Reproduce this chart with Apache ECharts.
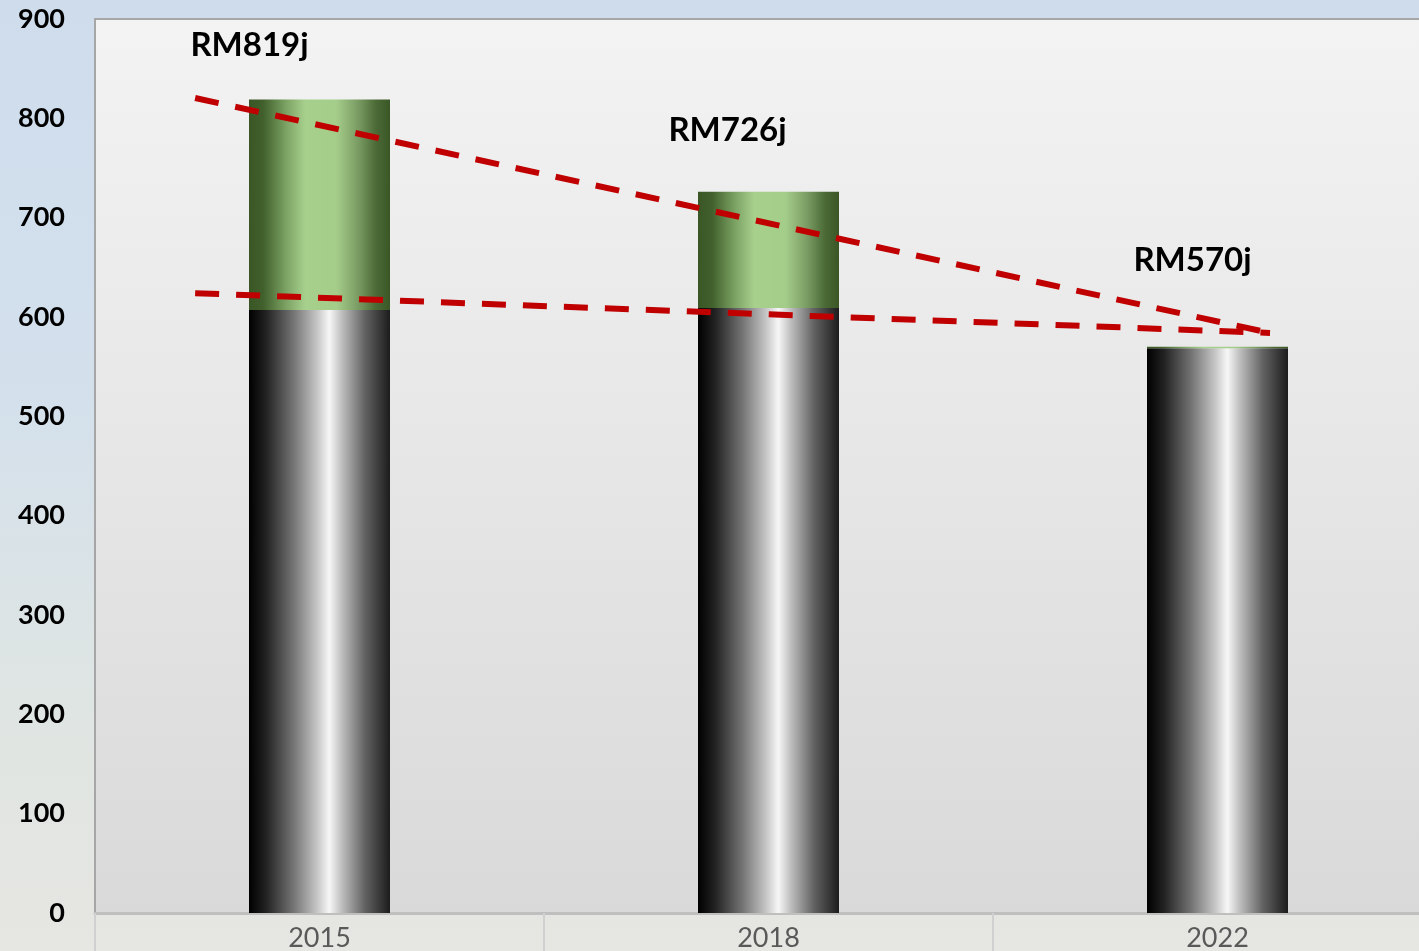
<!DOCTYPE html>
<html>
<head>
<meta charset="utf-8">
<script src="https://cdn.jsdelivr.net/npm/echarts@6/dist/echarts.min.js"></script>
<style>
html,body{margin:0;padding:0;width:1419px;height:951px;overflow:hidden;
background:linear-gradient(180deg,#cfdcec 0%,#d3e0ec 40%,#dfe5e2 75%,#e6e6e2 100%);}
#c{width:1419px;height:951px;}
</style>
</head>
<body>
<div id="c"></div>
<script>
const categories = ['2015', '2018', '2022'];
const baseValues = [607, 609, 568.5];
const extraValues = [212, 117, 1.5];
const totalLabels = ['RM819j', 'RM726j', 'RM570j'];
const yTicks = [0, 100, 200, 300, 400, 500, 600, 700, 800, 900];
const upperTrend = [[-0.277, 820.5], [2.117, 584]];
const lowerTrend = [[-0.277, 624], [2.117, 584]];

const labelOffsets = [[-70, -33], [-41, -40], [-25, -65]];

const chart = echarts.init(document.getElementById('c'));
const blackGrad = new echarts.graphic.LinearGradient(0, 0, 1, 0, [
  {offset: 0, color: '#000000'},
  {offset: 0.12, color: '#222222'},
  {offset: 0.32, color: '#767676'},
  {offset: 0.48, color: '#c4c4c4'},
  {offset: 0.57, color: '#f7f7f7'},
  {offset: 0.66, color: '#bdbdbd'},
  {offset: 0.82, color: '#636363'},
  {offset: 1, color: '#1c1c1c'}
]);
const greenGrad = new echarts.graphic.LinearGradient(0, 0, 1, 0, [
  {offset: 0, color: '#3a5626'},
  {offset: 0.1, color: '#41602c'},
  {offset: 0.27, color: '#7ea566'},
  {offset: 0.4, color: '#a8d08d'},
  {offset: 0.62, color: '#a5cd8a'},
  {offset: 0.78, color: '#789a62'},
  {offset: 0.9, color: '#4b6a36'},
  {offset: 1, color: '#3a5626'}
]);

chart.setOption({
  animation: false,
  grid: {
    left: 95, top: 19, right: -23, bottom: 38,
    outerBoundsMode: 'none',
    containLabel: false,
    show: true,
    backgroundColor: new echarts.graphic.LinearGradient(0, 0, 0, 1, [
      {offset: 0, color: '#f3f3f3'},
      {offset: 1, color: '#d9d9d9'}
    ]),
    borderColor: '#a6a6a6', borderWidth: 2
  },
  xAxis: [{
    type: 'category',
    data: categories,
    axisLine: {show: true, lineStyle: {color: '#bfbfbf', width: 3}},
    axisTick: {show: true, length: 40, lineStyle: {color: '#d0d0d0', width: 2}},
    axisLabel: {color: '#595959', fontSize: 27, fontFamily: 'Lato', margin: 12}
  }, {
    type: 'value', min: -0.5, max: 2.5, show: false
  }],
  yAxis: {
    type: 'value', min: yTicks[0], max: yTicks[yTicks.length - 1], interval: 100,
    splitLine: {show: false},
    axisLine: {show: false}, axisTick: {show: false},
    axisLabel: {color: '#000', fontSize: 27, fontWeight: 'bold', fontFamily: 'Lato', margin: 30}
  },
  series: [{
    type: 'bar', stack: 'a', barWidth: 141,
    data: baseValues,
    itemStyle: {color: blackGrad}
  }, {
    type: 'bar', stack: 'a', barWidth: 141,
    data: extraValues.map((v, i) => ({
      value: v,
      label: {
        show: true, position: 'top', offset: labelOffsets[i],
        formatter: () => totalLabels[i],
        color: '#000', fontSize: 33, fontWeight: 'bold', fontFamily: 'Lato'
      }
    })),
    itemStyle: {color: greenGrad}
  }, {
    type: 'line', xAxisIndex: 1, data: upperTrend, symbol: 'none', z: 5,
    lineStyle: {color: '#c00000', width: 6, type: [24, 17], cap: 'butt'}
  }, {
    type: 'line', xAxisIndex: 1, data: lowerTrend, symbol: 'none', z: 5,
    lineStyle: {color: '#c00000', width: 6, type: [24, 17], cap: 'butt'}
  }]
});
</script>
</body>
</html>
